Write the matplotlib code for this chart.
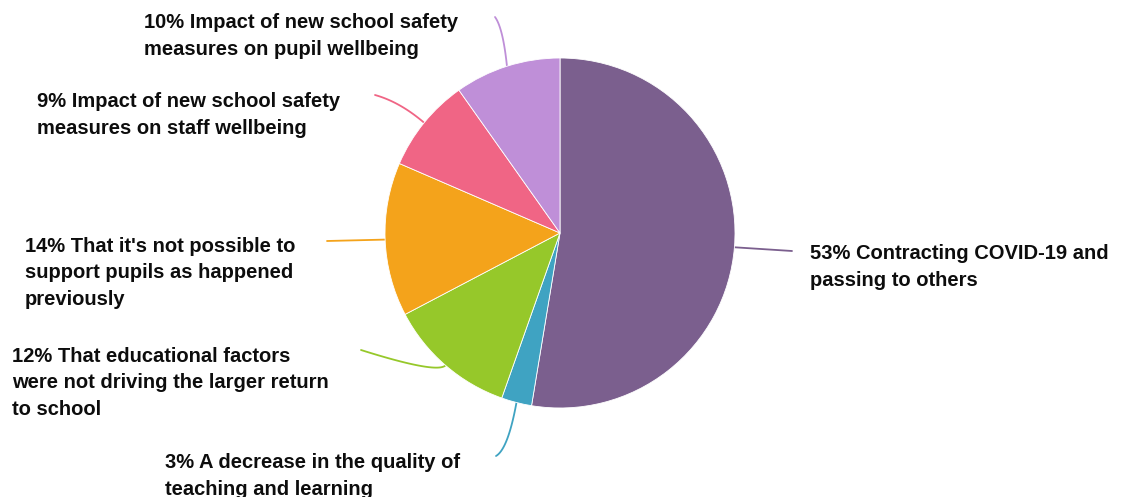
import numpy as np
import matplotlib
matplotlib.use("Agg")
import matplotlib.pyplot as plt

# slice values (percent), clockwise from 12 o'clock
categories = [
    "Contracting COVID-19 and\npassing to others",
    "A decrease in the quality of\nteaching and learning",
    "That educational factors\nwere not driving the larger return\nto school",
    "That it's not possible to\nsupport pupils as happened\npreviously",
    "Impact of new school safety\nmeasures on staff wellbeing",
    "Impact of new school safety\nmeasures on pupil wellbeing",
]
values = [52.6, 2.8, 11.9, 14.2, 8.7, 9.8]
colors = ["#7B5F8E", "#3FA3C2", "#96C82A", "#F4A31B", "#F06585", "#BF8FD8"]

W, H = 1125, 497


def Y(y):
    # pixel row (from top) -> data y
    return H - y


# label layout: text left x, text block centre y, leader end point, leader bend
label_pos = [(810, 267), (165, 476), (12, 383), (25, 273), (37, 115), (144, 36)]
leader_end = [(792, 251), (496, 456), (361, 350), (327, 241), (375, 95), (495, 17)]
leader_bend = [None, (508, 449), (437, 374), None, (400, 102), (503, 28)]

fig = plt.figure(figsize=(W / 100, H / 100), dpi=100)
ax = fig.add_axes([0, 0, 1, 1])

cx, cy, r = 560, 233, 175
wedges, _ = ax.pie(values, colors=colors, startangle=90, counterclock=False,
                   center=(cx, Y(cy)), radius=r,
                   wedgeprops=dict(edgecolor="white", linewidth=0.6))
for w in wedges:
    w.set_zorder(3)

ax.set_xlim(0, W)
ax.set_ylim(0, H)
ax.set_aspect("equal")
ax.axis("off")


def bez(p0, p1, p2, n=30):
    t = np.linspace(0, 1, n)[:, None]
    p0, p1, p2 = map(np.array, (p0, p1, p2))
    return (1 - t) ** 2 * p0 + 2 * (1 - t) * t * p1 + t ** 2 * p2


for i, w in enumerate(wedges):
    mid = np.deg2rad((w.theta1 + w.theta2) / 2)
    sx, sy = cx + r * np.cos(mid), Y(cy) + r * np.sin(mid)
    ex, ey = leader_end[i][0], Y(leader_end[i][1])
    if leader_bend[i] is None:
        pts = np.array([[sx, sy], [ex, ey]])
    else:
        pts = bez((sx, sy), (leader_bend[i][0], Y(leader_bend[i][1])), (ex, ey))
    ax.plot(pts[:, 0], pts[:, 1], color=colors[i], lw=1.3, zorder=2,
            solid_capstyle="round")

    txt = "{}% {}".format(int(round(values[i])), categories[i])
    ax.text(label_pos[i][0], Y(label_pos[i][1]), txt, ha="left", va="center",
            fontsize=14.5, fontweight="bold", family="Liberation Sans",
            linespacing=1.52, color="#0d0d0d")

fig.savefig("out.png", dpi=100)
